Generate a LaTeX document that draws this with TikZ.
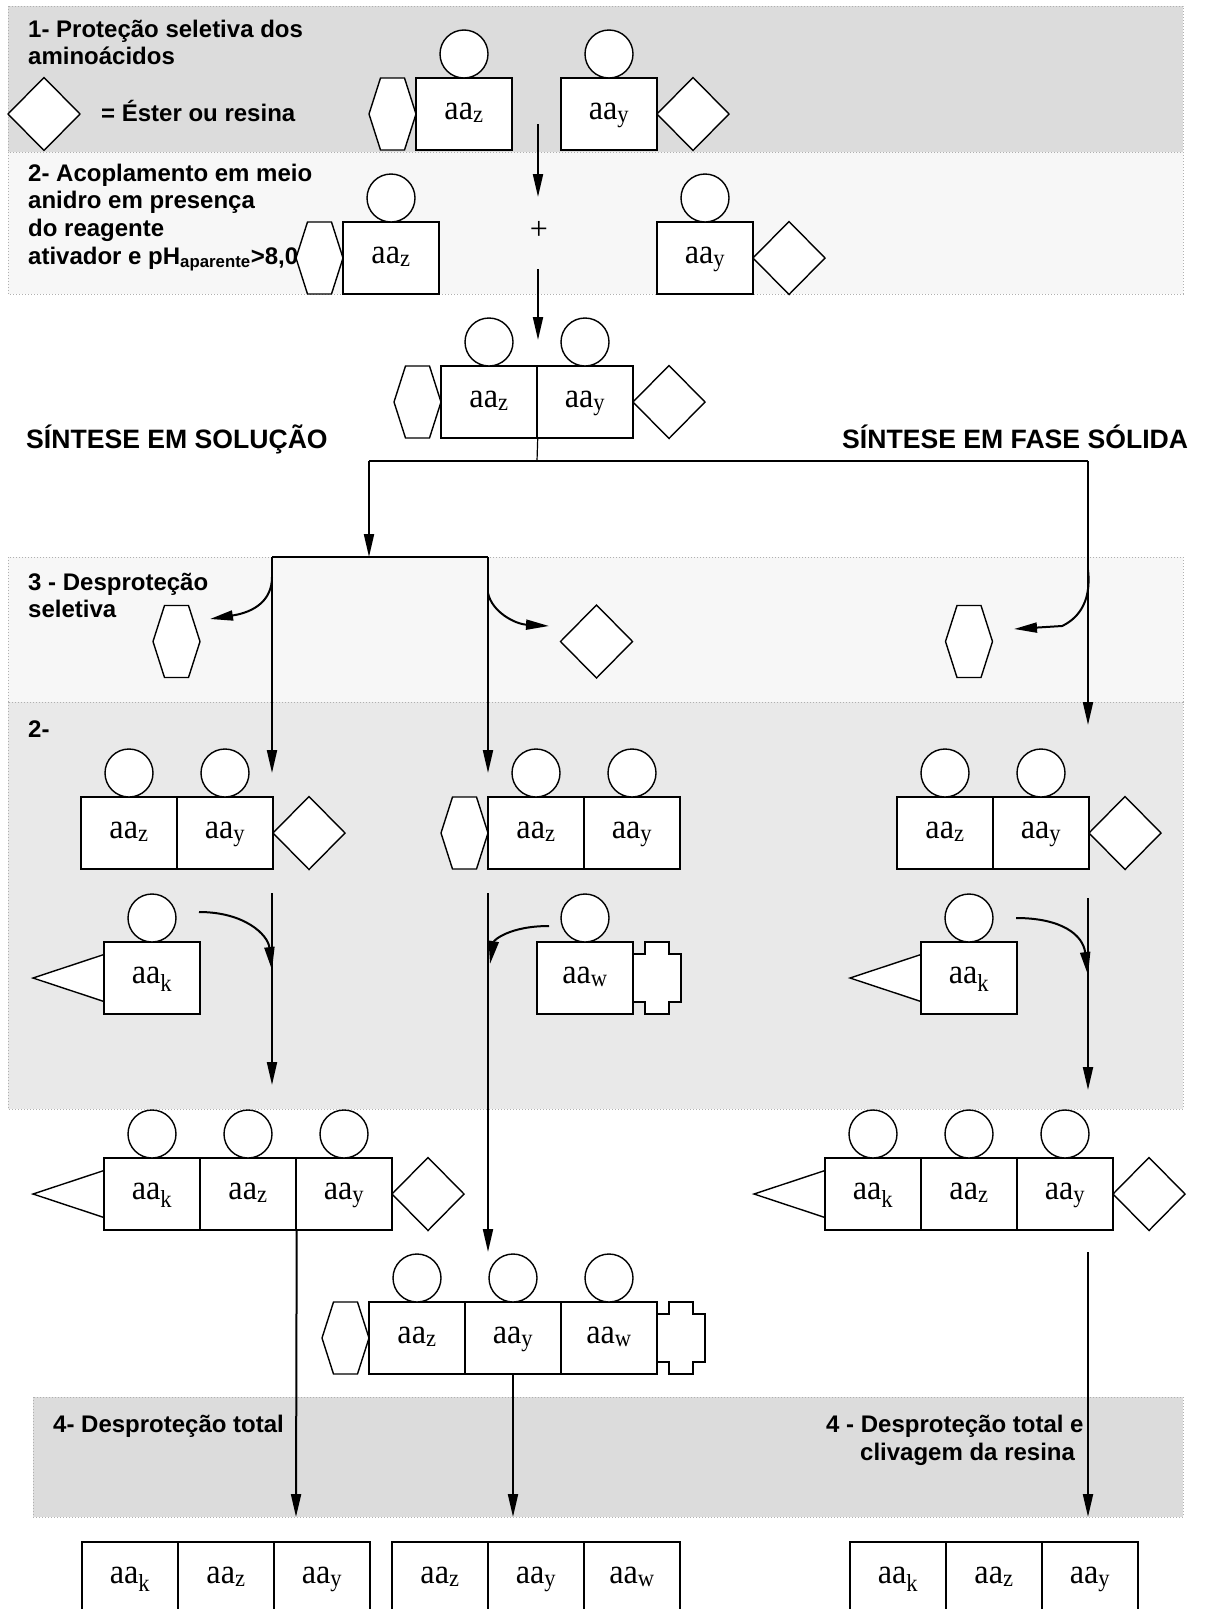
\documentclass[tikz,border=0pt]{standalone}
\usepackage{fontspec}
\setmainfont{Liberation Serif}
\newfontfamily\lsans{Liberation Sans}
\newfontfamily\aafont[FakeStretch=0.92]{Liberation Serif}
\usetikzlibrary{arrows.meta}
\definecolor{bandA}{HTML}{DCDCDC}
\definecolor{bandB}{HTML}{F7F7F7}
\definecolor{bandC}{HTML}{E9E9E9}
\definecolor{bordc}{HTML}{B0B0B0}
\begin{document}
\begin{tikzpicture}[x=1pt,y=-1pt,
  band/.style={draw=bordc, dotted, line width=1pt},
  shp/.style={draw, line width=1.4pt, fill=white, line join=miter},
  aa/.style={shp, rectangle, minimum width=96pt, minimum height=72pt, inner sep=0pt, text height=16pt, text depth=6pt, font=\aafont\fontsize{35}{36}\selectfont},
  ringc/.style={shp, circle, minimum size=48pt, inner sep=0pt},
  lbl/.style={font=\lsans\bfseries\fontsize{24}{28}\selectfont, anchor=base west, inner sep=0pt},
  head/.style={font=\lsans\bfseries\fontsize{26.6}{30}\selectfont, anchor=base west, inner sep=0pt},
  ln/.style={line width=2pt},
  arr/.style={line width=2pt, -{Triangle[length=23pt,width=10pt]}},
  pics/hexa/.style={code={\draw[shp] (-23.5,0) -- (-12,-36) -- (12,-36) -- (23.5,0) -- (12,36) -- (-12,36) -- cycle;}},
  pics/diam/.style={code={\draw[shp] (-36,0) -- (0,-36.5) -- (36,0) -- (0,36.5) -- cycle;}},
  pics/plug/.style={code={\draw[shp] (0,-24) -- (12,-24) -- (12,-36) -- (36,-36) -- (36,-24) -- (48,-24) -- (48,24) -- (36,24) -- (36,36) -- (12,36) -- (12,24) -- (0,24) -- cycle;}},
  pics/tri/.style={code={\draw[shp] (0,-23.5) -- (-71,0) -- (0,23.5) -- cycle;}}
]
\useasboundingbox (0,0) rectangle (1206,1609);
\clip (0,0) rectangle (1206,1609);
\fill[white] (0,0) rectangle (1206,1609);

% bands
\filldraw[band, fill=bandA] (8,6) rectangle (1183,152);
\filldraw[band, fill=bandB] (8,152) rectangle (1183,294);
\filldraw[band, fill=bandB] (8,557) rectangle (1183,702);
\filldraw[band, fill=bandC] (8,702) rectangle (1183,1109);
\filldraw[band, fill=bandA] (33,1397) rectangle (1183,1517);

% texts
\node[lbl] (t1a) at (28,37) {1- Proteção seletiva dos};
\node[lbl] (t1b) at (28,64.5) {aminoácidos};
\node[lbl] (t1c) at (101,121) {= Éster ou resina};
\node[lbl] (t2a) at (28,181) {2- Acoplamento em meio};
\node[lbl] (t2b) at (28,208.5) {anidro em presença};
\node[lbl] (t2c) at (28,236) {do reagente};
\node[lbl] (t2d) at (28,264) {ativador e pH\textsubscript{aparente}>8,0};
\node[head] (hs) at (26,448) {SÍNTESE EM SOLUÇÃO};
\node[head] (hf) at (842,448) {SÍNTESE EM FASE SÓLIDA};
\node[lbl] (t3a) at (28,590) {3 - Desproteção};
\node[lbl] (t3b) at (28,617) {seletiva};
\node[lbl] (t5) at (28,737) {2-};
\node[lbl] (t4a) at (53,1432) {4- Desproteção total};
\node[lbl] (t4b) at (826,1432) {4 - Desproteção total e};
\node[lbl] (t4c) at (860,1460) {clivagem da resina};

% connector coordinates
\coordinate (p1s) at (538,124); \coordinate (p1e) at (538,197);
\coordinate (p2s) at (538,269); \coordinate (p2e) at (538,340);
\coordinate (br) at (537,461);
\coordinate (bl) at (369,461); \coordinate (brr) at (1088,461);
\coordinate (bls) at (369,557);
\coordinate (hl) at (272,557); \coordinate (hr) at (488,557);
\coordinate (hle) at (272,773); \coordinate (hre) at (488,773);
\coordinate (rre) at (1088,725);
\coordinate (cl1) at (272,577); \coordinate (cl2) at (210,619);
\coordinate (cr1) at (488,593); \coordinate (cr2) at (549,626);
\coordinate (cs1) at (1088,570); \coordinate (cs2) at (1062,626); \coordinate (cs3) at (1014,629);
\coordinate (vl1) at (272,893); \coordinate (vl2) at (272,1085);
\coordinate (vm1) at (488,893); \coordinate (vm2) at (488,1252);
\coordinate (vr1) at (1088,898); \coordinate (vr2) at (1088,1090);
\coordinate (kl1) at (199,912); \coordinate (kl2) at (272,970);
\coordinate (wm1) at (549,926); \coordinate (wm2) at (490,964);
\coordinate (kr1) at (1016,918); \coordinate (kr2) at (1088,975);
\coordinate (fl) at (296,1517); \coordinate (fm) at (513,1517);
\coordinate (frs) at (1088,1252); \coordinate (fr) at (1088,1517);

% plus
\node[font=\fontsize{32}{34}\selectfont] (plus) at (539,230) {+};

% step 1 arrows
\draw[arr] (p1s) -- (p1e);
\draw[arr] (p2s) -- (p2e);

% branch lines
\draw[arr] (bl) -- (bls);
\draw[ln] (bl) -- (brr);
\draw[arr] (brr) -- (rre);
\draw[ln] (hl) -- (hr);
\draw[arr] (hl) -- (hle);
\draw[arr] (hr) -- (hre);
\draw[arr] (cl1) .. controls (272,600) and (255,612) .. (cl2);
\draw[arr] (cr1) .. controls (492,612) and (515,624) .. (cr2);
\draw[arr] (cs1) .. controls (1092,605) and (1075,620) .. (cs2) -- (cs3);

% removed protecting groups (step 3)
\pic at (176.5,641.5) {hexa};
\pic at (596.5,641.5) {diam};
\pic at (969,641.5) {hexa};

% band 2- lines
\draw[arr] (vl1) -- (vl2);
\draw[arr] (vm1) -- (vm2);
\draw[arr] (vr1) -- (vr2);
\draw[arr] (kl1) .. controls (245,912) and (268,935) .. (kl2);
\draw[arr] (wm1) .. controls (510,926) and (494,940) .. (wm2);
\draw[arr] (kr1) .. controls (1062,918) and (1083,935) .. (kr2);

% row 1
\pic at (44,114) {diam};
\pic at (392.5,114) {hexa};
\node[aa] (z1) at (464,114) {aa\textsubscript{z}};
\node[ringc] (cz1) at (464,54) {};
\node[aa] (y1) at (609,114) {aa\textsubscript{y}};
\node[ringc] (cy1) at (609,54) {};
\pic at (693,114) {diam};

% row 2
\pic at (319.5,258) {hexa};
\node[aa] (z2) at (391,258) {aa\textsubscript{z}};
\node[ringc] (cz2) at (391,198) {};
\node[aa] (y2) at (705,258) {aa\textsubscript{y}};
\node[ringc] (cy2) at (705,198) {};
\pic at (789,258) {diam};

% dimer
\pic at (417.5,402) {hexa};
\node[aa] (dz) at (489,402) {aa\textsubscript{z}};
\node[aa] (dy) at (585,402) {aa\textsubscript{y}};
\node[ringc] (cdz) at (489,342) {};
\node[ringc] (cdy) at (585,342) {};
\pic at (669,402) {diam};
\draw[line width=1.2pt] (dz.south east) -- (br);

% band 2- dimers
\node[aa] (lz) at (129,833) {aa\textsubscript{z}};
\node[aa] (ly) at (225,833) {aa\textsubscript{y}};
\node[ringc] (clz) at (129,773) {};
\node[ringc] (cly) at (225,773) {};
\pic at (309,833) {diam};

\pic at (464.5,833) {hexa};
\node[aa] (mz) at (536,833) {aa\textsubscript{z}};
\node[aa] (my) at (632,833) {aa\textsubscript{y}};
\node[ringc] (cmz) at (536,773) {};
\node[ringc] (cmy) at (632,773) {};

\node[aa] (rz) at (945,833) {aa\textsubscript{z}};
\node[aa] (ry) at (1041,833) {aa\textsubscript{y}};
\node[ringc] (crz) at (945,773) {};
\node[ringc] (cry) at (1041,773) {};
\pic at (1125,833) {diam};

% monomers
\pic at (104,978) {tri};
\node[aa] (kl) at (152,978) {aa\textsubscript{k}};
\node[ringc] (ckl) at (152,918) {};
\node[aa] (wm) at (585,978) {aa\textsubscript{w}};
\node[ringc] (cwm) at (585,918) {};
\pic at (633,978) {plug};
\pic at (921,978) {tri};
\node[aa] (kr) at (969,978) {aa\textsubscript{k}};
\node[ringc] (ckr) at (969,918) {};

% left trimer
\pic at (104,1194) {tri};
\node[aa] (t1k) at (152,1194) {aa\textsubscript{k}};
\node[aa] (t1z) at (248,1194) {aa\textsubscript{z}};
\node[aa] (t1y) at (344,1194) {aa\textsubscript{y}};
\node[ringc] (ct1k) at (152,1134) {};
\node[ringc] (ct1z) at (248,1134) {};
\node[ringc] (ct1y) at (344,1134) {};
\pic at (428,1194) {diam};

% middle trimer
\pic at (345.5,1338) {hexa};
\node[aa] (t2z) at (417,1338) {aa\textsubscript{z}};
\node[aa] (t2y) at (513,1338) {aa\textsubscript{y}};
\node[aa] (t2w) at (609,1338) {aa\textsubscript{w}};
\node[ringc] (ct2z) at (417,1278) {};
\node[ringc] (ct2y) at (513,1278) {};
\node[ringc] (ct2w) at (609,1278) {};
\pic at (657,1338) {plug};

% right trimer
\pic at (825,1194) {tri};
\node[aa] (t3k) at (873,1194) {aa\textsubscript{k}};
\node[aa] (t3z) at (969,1194) {aa\textsubscript{z}};
\node[aa] (t3y) at (1065,1194) {aa\textsubscript{y}};
\node[ringc] (ct3k) at (873,1134) {};
\node[ringc] (ct3z) at (969,1134) {};
\node[ringc] (ct3y) at (1065,1134) {};
\pic at (1149,1194) {diam};

% final arrows
\draw[arr] (t1z.south east) -- (fl);
\draw[arr] (t2y.south) -- (fm);
\draw[arr] (frs) -- (fr);

% bottom products
\node[aa] (b1) at (130,1578) {aa\textsubscript{k}};
\node[aa] (b2) at (226,1578) {aa\textsubscript{z}};
\node[aa] (b3) at (322,1578) {aa\textsubscript{y}};
\node[aa] (b4) at (440,1578) {aa\textsubscript{z}};
\node[aa] (b5) at (536,1578) {aa\textsubscript{y}};
\node[aa] (b6) at (632,1578) {aa\textsubscript{w}};
\node[aa] (b7) at (898,1578) {aa\textsubscript{k}};
\node[aa] (b8) at (994,1578) {aa\textsubscript{z}};
\node[aa] (b9) at (1090,1578) {aa\textsubscript{y}};
\end{tikzpicture}
\end{document}
